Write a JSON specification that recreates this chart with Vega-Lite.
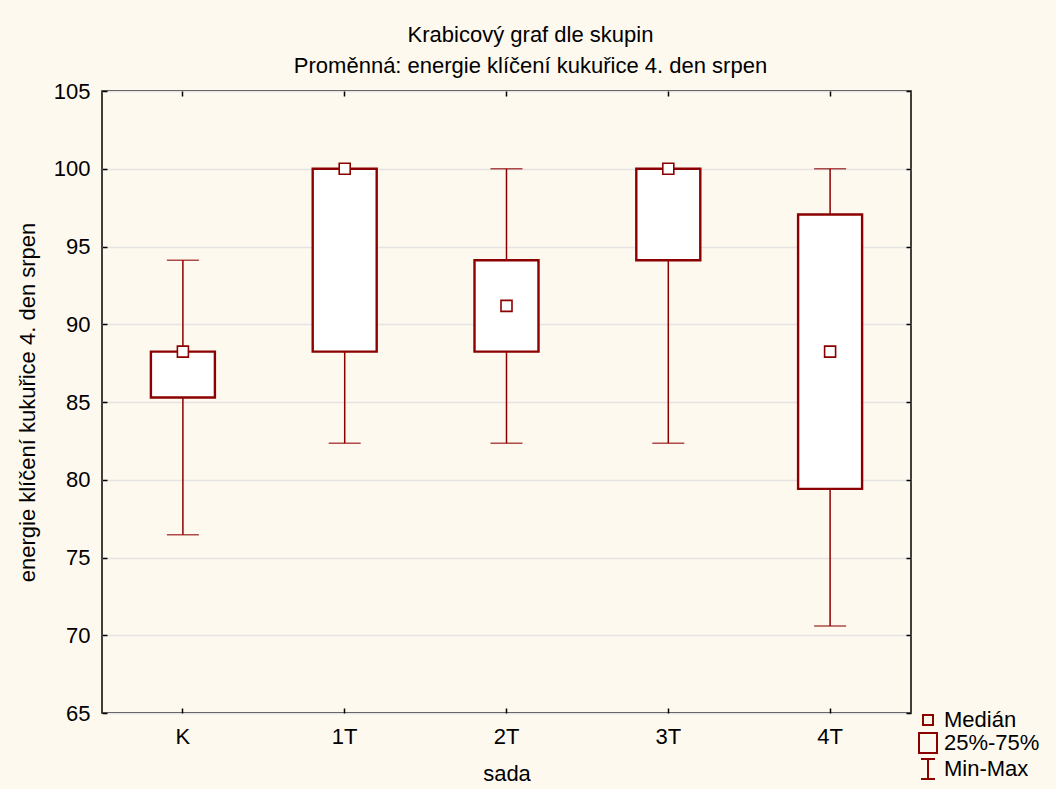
{
  "$schema": "https://vega.github.io/schema/vega-lite/v6.json",
  "autosize": "none",
  "width": 809,
  "height": 622,
  "padding": {"left": 102, "top": 91, "right": 145, "bottom": 76},
  "background": "#FEF9EF",
  "title": {
    "text": ["Krabicový graf dle skupin", "Proměnná: energie klíčení kukuřice 4. den srpen"],
    "anchor": "middle",
    "frame": "group",
    "dx": 24,
    "offset": 2,
    "fontSize": 22,
    "lineHeight": 31,
    "font": "Liberation Sans",
    "fontWeight": "normal",
    "color": "black"
  },
  "datasets": {
    "boxes": [
      {"sada": "K", "min": 76.47, "q1": 85.29, "median": 88.24, "q3": 88.24, "max": 94.12},
      {"sada": "1T", "min": 82.35, "q1": 88.24, "median": 100, "q3": 100, "max": 100},
      {"sada": "2T", "min": 82.35, "q1": 88.24, "median": 91.18, "q3": 94.12, "max": 100},
      {"sada": "3T", "min": 82.35, "q1": 94.12, "median": 100, "q3": 100, "max": 100},
      {"sada": "4T", "min": 70.59, "q1": 79.41, "median": 88.24, "q3": 97.06, "max": 100}
    ],
    "key": [
      {"item": "Medián"},
      {"item": "25%-75%"},
      {"item": "Min-Max"}
    ]
  },
  "resolve": {"axis": {"x": "independent", "y": "independent"}},
  "layer": [
    {
      "data": {"name": "boxes"},
      "mark": {"type": "rule", "color": "#8B0000", "strokeWidth": 1.5},
      "encoding": {
        "x": {
          "field": "sada", "type": "nominal", "sort": ["K", "1T", "2T", "3T", "4T"],
          "scale": {"paddingInner": 0, "paddingOuter": 0},
          "axis": {
            "orient": "bottom", "title": "sada", "labelAngle": 0,
            "domain": false, "grid": false,
            "tickSize": -5, "tickColor": "black", "tickWidth": 1.5,
            "labelPadding": 18, "titlePadding": 16
          }
        },
        "y": {
          "field": "min", "type": "quantitative",
          "scale": {"domain": [65, 105], "nice": false, "zero": false},
          "axis": {
            "orient": "left", "title": "energie klíčení kukuřice 4. den srpen",
            "values": [65, 70, 75, 80, 85, 90, 95, 100, 105],
            "domain": false, "grid": true, "gridColor": "#E4E4E4", "gridWidth": 1.5,
            "tickSize": -5, "tickColor": "black", "tickWidth": 1.5,
            "labelPadding": 17, "titlePadding": 14
          }
        },
        "y2": {"field": "max"}
      }
    },
    {
      "data": {"name": "boxes"},
      "mark": {"type": "tick", "color": "#8B0000", "size": 32, "thickness": 1.5, "orient": "horizontal"},
      "encoding": {
        "x": {
          "field": "sada", "type": "nominal", "sort": ["K", "1T", "2T", "3T", "4T"],
          "axis": {
            "orient": "top", "title": null, "labels": false,
            "domain": false, "grid": false,
            "tickSize": -5, "tickColor": "black", "tickWidth": 1.5
          }
        },
        "y": {
          "field": "max", "type": "quantitative",
          "axis": {
            "orient": "right", "title": null, "labels": false,
            "values": [65, 70, 75, 80, 85, 90, 95, 100, 105],
            "domain": false, "grid": false,
            "tickSize": -5, "tickColor": "black", "tickWidth": 1.5
          }
        }
      }
    },
    {
      "data": {"name": "boxes"},
      "mark": {"type": "tick", "color": "#8B0000", "size": 32, "thickness": 1.5, "orient": "horizontal"},
      "encoding": {
        "x": {"field": "sada", "type": "nominal", "sort": ["K", "1T", "2T", "3T", "4T"], "axis": null},
        "y": {"field": "min", "type": "quantitative", "axis": null}
      }
    },
    {
      "data": {"name": "boxes"},
      "mark": {"type": "bar", "fill": "white", "stroke": "#8B0000", "strokeWidth": 2.4, "size": 64},
      "encoding": {
        "x": {"field": "sada", "type": "nominal", "sort": ["K", "1T", "2T", "3T", "4T"], "axis": null},
        "y": {"field": "q1", "type": "quantitative", "axis": null},
        "y2": {"field": "q3"}
      }
    },
    {
      "data": {"name": "boxes"},
      "mark": {"type": "point", "shape": "square", "size": 121, "filled": false, "fill": "white", "fillOpacity": 1, "stroke": "#8B0000", "strokeWidth": 1.6, "opacity": 1},
      "encoding": {
        "x": {"field": "sada", "type": "nominal", "sort": ["K", "1T", "2T", "3T", "4T"], "axis": null},
        "y": {"field": "median", "type": "quantitative", "axis": null}
      }
    },
    {
      "data": {"name": "key"},
      "mark": {"type": "point", "filled": false, "color": "#8B0000", "strokeWidth": 2, "opacity": 0},
      "encoding": {
        "shape": {
          "field": "item", "type": "nominal",
          "scale": {
            "domain": ["Medián", "25%-75%", "Min-Max"],
            "range": [
              "M-0.5,-0.5H0.5V0.5H-0.5Z",
              "M-0.9,-1H0.9V1H-0.9Z",
              "M-0.7,-1H0.7M0,-1V1M-0.7,1H0.7"
            ]
          },
          "legend": {
            "orient": "none",
            "legendX": 815,
            "legendY": 618,
            "title": null,
            "padding": 0,
            "rowPadding": -2,
            "symbolSize": 400,
            "symbolStrokeWidth": 2,
            "symbolStrokeColor": "#8B0000",
            "symbolFillColor": "transparent",
            "labelOffset": 5,
            "labelFontSize": 22,
            "labelFont": "Liberation Sans",
            "labelColor": "black",
            "labelLimit": 200,
            "encode": {"symbols": {"update": {"opacity": {"value": 1}, "strokeOpacity": {"value": 1}}}}
          }
        }
      }
    }
  ],
  "config": {
    "font": "Liberation Sans",
    "view": {"fill": "white", "stroke": "black", "strokeWidth": 1.5},
    "axis": {
      "labelFont": "Liberation Sans", "labelFontSize": 22, "labelColor": "black",
      "titleFont": "Liberation Sans", "titleFontSize": 22, "titleColor": "black", "titleFontWeight": "normal"
    }
  }
}
